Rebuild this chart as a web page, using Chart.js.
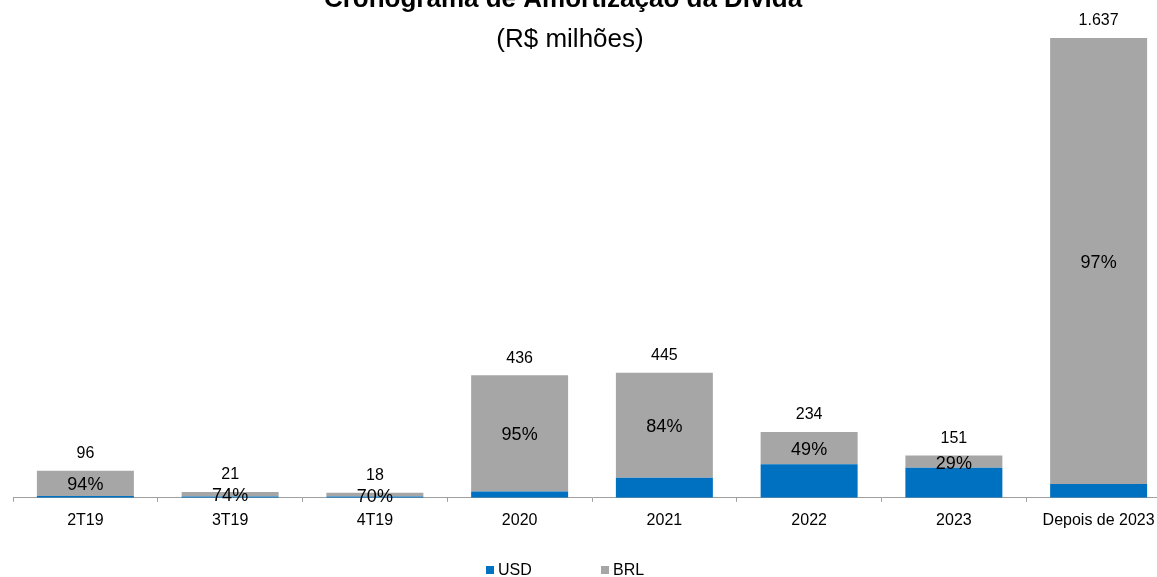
<!DOCTYPE html>
<html>
<head>
<meta charset="utf-8">
<script src="https://cdn.jsdelivr.net/npm/chart.js@4.4.1/dist/chart.umd.min.js"></script>
<style>
html, body { margin:0; padding:0; overflow:hidden; background:#fff; }
#wrap { position:absolute; left:0; top:0; width:1175px; height:577px; }
</style>
</head>
<body>
<div id="wrap"><canvas id="c"></canvas></div>
<script>
const categories = ['2T19','3T19','4T19','2020','2021','2022','2023','Depois de 2023'];
const usdValues = [6, 5, 5, 22, 71, 119, 107, 49];
const brlValues = [90, 16, 13, 414, 374, 115, 44, 1588];
const totalLabels = ['96','21','18','436','445','234','151','1.637'];
const brlShareLabels = ['94%','74%','70%','95%','84%','49%','29%','97%'];
const titleText = 'Cronograma de Amortização da Dívida';
const subtitleText = '(R$ milhões)';

const FONT = "'Liberation Sans', Arial, sans-serif";

const labelPlugin = {
  id: 'labels',
  afterDatasetsDraw(chart) {
    const ctx = chart.ctx;
    const brlMeta = chart.getDatasetMeta(1);
    ctx.save();
    ctx.fillStyle = '#000';
    ctx.textAlign = 'center';
    ctx.textBaseline = 'middle';
    brlMeta.data.forEach((bar, i) => {
      ctx.font = "18px " + FONT;
      const mid = (bar.y + bar.base) / 2 + 2;
      ctx.fillText(brlShareLabels[i], bar.x, mid);
      ctx.font = "16px " + FONT;
      ctx.fillText(totalLabels[i], bar.x, bar.y - 17);
    });
    ctx.textBaseline = 'alphabetic';
    ctx.font = "bold 26px " + FONT;
    ctx.fillText(titleText, 563, 7);
    ctx.font = "26px " + FONT;
    ctx.fillText(subtitleText, 570, 47);
    ctx.textAlign = 'left';
    ctx.textBaseline = 'middle';
    ctx.font = "16px " + FONT;
    const items = [
      {x: 486, ds: chart.data.datasets[0]},
      {x: 601, ds: chart.data.datasets[1]}
    ];
    items.forEach(it => {
      ctx.fillStyle = it.ds.backgroundColor;
      ctx.fillRect(it.x, 566, 8, 8);
      ctx.fillStyle = '#000';
      ctx.fillText(it.ds.label, it.x + 12, 571);
    });
    ctx.restore();
  }
};

new Chart(document.getElementById('c'), {
  type: 'bar',
  data: {
    labels: categories,
    datasets: [
      { label: 'USD', data: usdValues, backgroundColor: '#0070C0', borderWidth: 0 },
      { label: 'BRL', data: brlValues, backgroundColor: '#A6A6A6', borderWidth: 0 }
    ]
  },
  options: {
    responsive: true,
    maintainAspectRatio: false,
    animation: false,
    layout: { padding: { left: 13, right: 4, top: 0, bottom: 38 } },
    datasets: { bar: { barPercentage: 0.67, categoryPercentage: 1.0 } },
    plugins: {
      legend: { display: false },
      title: { display: false },
      tooltip: { enabled: false }
    },
    scales: {
      x: {
        stacked: true,
        offset: true,
        grid: { display: true, offset: true, drawOnChartArea: false, drawTicks: true, tickLength: 4, color: '#A0A0A0' },
        border: { display: true, color: '#A0A0A0', width: 1 },
        ticks: { color: '#000', padding: 9, font: { family: FONT, size: 16 } }
      },
      y: {
        stacked: true,
        display: false,
        min: 0,
        max: 1772
      }
    }
  },
  plugins: [labelPlugin]
});
</script>
</body>
</html>
